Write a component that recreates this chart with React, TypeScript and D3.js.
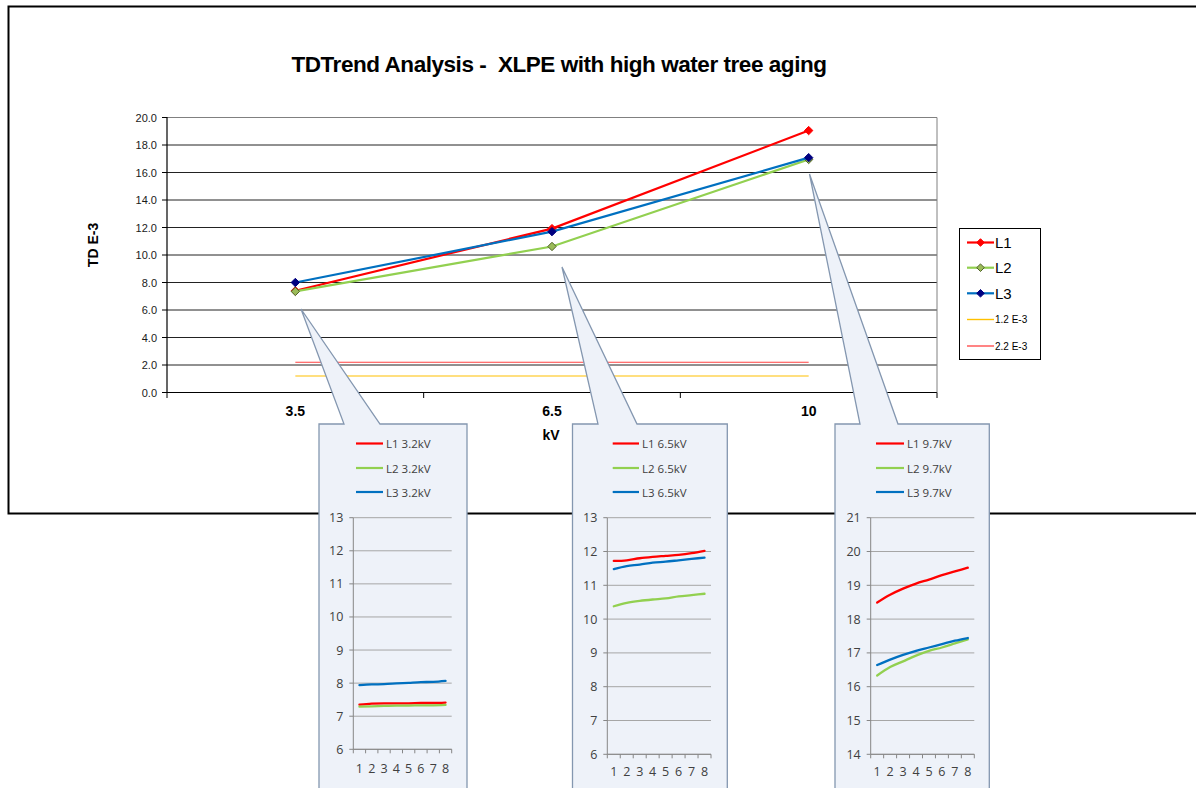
import React from "react";
import * as d3 from "d3";

const categories = ["3.5", "6.5", "10"];
const L1 = [7.4, 11.92, 19.05];
const L2 = [7.35, 10.62, 16.95];
const L3 = [8.0, 11.7, 17.08];
const REF_12 = 1.2;
const REF_22 = 2.2;
const yTicks = [0, 2, 4, 6, 8, 10, 12, 14, 16, 18, 20];

const insetX = [1, 2, 3, 4, 5, 6, 7, 8];
const in1L1 = [7.35, 7.38, 7.39, 7.39, 7.39, 7.4, 7.4, 7.41];
const in1L2 = [7.29, 7.3, 7.31, 7.32, 7.32, 7.33, 7.33, 7.34];
const in1L3 = [7.94, 7.96, 7.97, 7.99, 8.01, 8.03, 8.04, 8.07];
const in2L1 = [11.72, 11.74, 11.8, 11.84, 11.87, 11.9, 11.95, 12.02];
const in2L2 = [10.38, 10.48, 10.54, 10.58, 10.61, 10.67, 10.71, 10.75];
const in2L3 = [11.48, 11.57, 11.61, 11.67, 11.7, 11.74, 11.78, 11.82];
const in3L1 = [18.49, 18.72, 18.9, 19.05, 19.17, 19.3, 19.41, 19.52];
const in3L2 = [16.33, 16.58, 16.75, 16.92, 17.06, 17.16, 17.28, 17.4];
const in3L3 = [16.64, 16.8, 16.94, 17.06, 17.16, 17.26, 17.36, 17.44];

const RED = "#FF0000";
const GREEN = "#92D050";
const BLUE = "#0070C0";
const NAVY = "#000080";

const FONT = "'Liberation Sans', Arial, sans-serif";
const IFONT = "'Open Sans', 'Liberation Sans', sans-serif";

type InsetCfg = {
  left: number;
  right: number;
  top: number;
  tip: [number, number];
  base: [number, number];
  axisX: number;
  gridRight: number;
  yTop: number;
  yBottom: number;
  domain: [number, number];
  legX: [number, number];
  xLabelY: number;
  kv: string;
  series: number[][];
};

function diamondPath(r: number) {
  const p = d3.path();
  p.moveTo(0, -r);
  p.lineTo(r, 0);
  p.lineTo(0, r);
  p.lineTo(-r, 0);
  p.closePath();
  return p.toString();
}

function Inset({ c }: { c: InsetCfg }) {
  const bottom = 800;
  const outline = `M${c.left},${c.top} L${c.base[0]},${c.top} L${c.tip[0]},${c.tip[1]} L${c.base[1]},${c.top} L${c.right},${c.top} L${c.right},${bottom} L${c.left},${bottom} Z`;
  const x = d3
    .scaleBand<number>()
    .domain(insetX)
    .range([c.axisX, c.gridRight]);
  const y = d3.scaleLinear().domain(c.domain).range([c.yBottom, c.yTop]);
  const ticks = d3.range(c.domain[0], c.domain[1] + 0.5, 1);
  const line = d3
    .line<number>()
    .x((_, i) => (x(insetX[i]) as number) + x.bandwidth() / 2)
    .y((d) => y(d))
    .curve(d3.curveMonotoneX);
  const colors = [RED, GREEN, BLUE];
  const names = ["L1", "L2", "L3"];
  const legY = [443.5, 468, 492];
  const bounds = d3.range(0, 9).map((i) => c.axisX + i * x.step());
  return (
    <g>
      <path d={outline} fill="#EEF2F9" stroke="#8497B0" strokeWidth={1.3} />
      {names.map((n, i) => (
        <g key={n}>
          <line x1={c.legX[0]} x2={c.legX[1]} y1={legY[i]} y2={legY[i]} stroke={colors[i]} strokeWidth={2.2} />
          <text x={c.legX[1] + 3} y={legY[i] + 4.5} fontFamily={IFONT} fontSize={11.5} fill="#404040">
            {`${n} ${c.kv}`}
          </text>
        </g>
      ))}
      {ticks.map((t) => (
        <g key={t}>
          <line x1={c.axisX} x2={c.gridRight} y1={y(t)} y2={y(t)} stroke="#A6A6A6" strokeWidth={1} />
          <line x1={c.axisX - 4} x2={c.axisX} y1={y(t)} y2={y(t)} stroke="#868686" strokeWidth={1} />
          <text x={c.axisX - 10} y={y(t) + 4.5} textAnchor="end" fontFamily={IFONT} fontSize={12.5} fill="#404040">
            {t}
          </text>
        </g>
      ))}
      <line x1={c.axisX} x2={c.axisX} y1={c.yTop} y2={c.yBottom} stroke="#868686" strokeWidth={1} />
      <line x1={c.axisX} x2={c.gridRight} y1={c.yBottom} y2={c.yBottom} stroke="#868686" strokeWidth={1} />
      {bounds.map((bx, i) => (
        <line key={i} x1={bx} x2={bx} y1={c.yBottom} y2={c.yBottom + 4} stroke="#868686" strokeWidth={1} />
      ))}
      {insetX.map((v) => (
        <text
          key={v}
          x={(x(v) as number) + x.bandwidth() / 2}
          y={c.xLabelY + 4.5}
          textAnchor="middle"
          fontFamily={IFONT}
          fontSize={12.5}
          fill="#404040"
        >
          {v}
        </text>
      ))}
      {c.series.map((s, i) => (
        <path key={i} d={line(s) || ""} fill="none" stroke={colors[i]} strokeWidth={2.3} strokeLinecap="round" />
      ))}
    </g>
  );
}

export default function App() {
  const W = 1196;
  const H = 788;
  const x = d3.scaleBand<string>().domain(categories).range([167, 937]);
  const y = d3.scaleLinear().domain([0, 20]).range([392.5, 117.5]);
  const cx = (c: string) => (x(c) as number) + x.bandwidth() / 2;
  const lineGen = d3
    .line<number>()
    .x((_, i) => cx(categories[i]))
    .y((d) => y(d));
  const diamond = diamondPath(4.2);
  const smallDiamond = diamondPath(3.8);
  const bounds = d3.range(0, 4).map((i) => 167 + i * x.step());
  const xFirst = cx(categories[0]);
  const xLast = cx(categories[categories.length - 1]);

  const main = [
    { name: "L1", data: L1, color: RED, mFill: RED, mStroke: RED },
    { name: "L2", data: L2, color: GREEN, mFill: "#9BBB59", mStroke: "#4F6228" },
    { name: "L3", data: L3, color: BLUE, mFill: NAVY, mStroke: NAVY },
  ];

  const insets: InsetCfg[] = [
    {
      left: 319, right: 467, top: 424, tip: [301, 309], base: [344, 380],
      axisX: 353.3, gridRight: 451.7, yTop: 517.7, yBottom: 749.3, domain: [6, 13],
      legX: [356, 383], xLabelY: 768.3, kv: "3.2kV", series: [in1L1, in1L2, in1L3],
    },
    {
      left: 572.5, right: 727.3, top: 424, tip: [562, 267], base: [598, 637],
      axisX: 607.3, gridRight: 711, yTop: 517.7, yBottom: 754.3, domain: [6, 13],
      legX: [612.7, 639], xLabelY: 771.7, kv: "6.5kV", series: [in2L1, in2L2, in2L3],
    },
    {
      left: 835, right: 989.3, top: 424, tip: [809.5, 174], base: [860, 898],
      axisX: 870.7, gridRight: 974.3, yTop: 517.7, yBottom: 754.3, domain: [14, 21],
      legX: [876, 904], xLabelY: 771.7, kv: "9.7kV", series: [in3L1, in3L2, in3L3],
    },
  ];

  const legendItems = [
    { label: "L1", color: RED, mFill: RED, mStroke: RED, marker: true, big: true },
    { label: "L2", color: GREEN, mFill: "#9BBB59", mStroke: "#4F6228", marker: true, big: true },
    { label: "L3", color: BLUE, mFill: NAVY, mStroke: NAVY, marker: true, big: true },
    { label: "1.2 E-3", color: "#FFC000", marker: false, big: false },
    { label: "2.2 E-3", color: "#FF5050", marker: false, big: false },
  ];
  const legendY = [242.5, 267.7, 293.3, 319.5, 346];

  return (
    <svg
      width={W}
      height={H}
      style={{ position: "absolute", left: 0, top: 0, background: "#fff" }}
    >
      <rect x={0} y={0} width={W} height={H} fill="#fff" />
      {/* outer chart border */}
      <rect x={8.5} y={6.5} width={1200} height={507} fill="none" stroke="#000" strokeWidth={2} />

      <text
        x={559}
        y={72}
        textAnchor="middle"
        fontFamily={FONT}
        fontWeight="bold"
        fontSize={22.5}
        letterSpacing={-0.45}
        fill="#000"
        style={{ whiteSpace: "pre" }}
        xmlSpace="preserve"
      >
        {"TDTrend Analysis -  XLPE with high water tree aging"}
      </text>

      {/* gridlines */}
      {yTicks.map((t) => (
        <g key={t}>
          <line x1={167} x2={937} y1={y(t)} y2={y(t)} stroke={t === 0 ? "#000" : "#222"} strokeWidth={1} />
          <line x1={162} x2={167} y1={y(t)} y2={y(t)} stroke="#000" strokeWidth={1} />
          <text x={157} y={y(t) + 4} textAnchor="end" fontFamily={FONT} fontSize={11} fill="#1a1a1a">
            {t.toFixed(1)}
          </text>
        </g>
      ))}
      <line x1={937} x2={937} y1={117.5} y2={392.5} stroke="#808080" strokeWidth={1} />
      <line x1={167} x2={937} y1={117.5} y2={117.5} stroke="#808080" strokeWidth={1} />
      <line x1={167} x2={167} y1={117} y2={393} stroke="#000" strokeWidth={1.2} />
      {bounds.map((b, i) => (
        <line key={i} x1={b} x2={b} y1={392.5} y2={398} stroke="#000" strokeWidth={1} />
      ))}
      {categories.map((c) => (
        <text key={c} x={cx(c)} y={416} textAnchor="middle" fontFamily={FONT} fontWeight="bold" fontSize={14} fill="#000">
          {c}
        </text>
      ))}
      <text x={551} y={440} textAnchor="middle" fontFamily={FONT} fontWeight="bold" fontSize={14} fill="#000">
        kV
      </text>
      <text
        transform="translate(98,245) rotate(-90)"
        textAnchor="middle"
        fontFamily={FONT}
        fontWeight="bold"
        fontSize={14}
        fill="#000"
      >
        TD E-3
      </text>

      {/* reference lines */}
      <line x1={xFirst} x2={xLast} y1={y(REF_12)} y2={y(REF_12)} stroke="#FFC000" strokeWidth={1.2} />
      <line x1={xFirst} x2={xLast} y1={y(REF_22)} y2={y(REF_22)} stroke="#FF4040" strokeWidth={1.2} />

      {/* series */}
      {main.map((s) => (
        <g key={s.name}>
          <path d={lineGen(s.data) || ""} fill="none" stroke={s.color} strokeWidth={2.2} />
          {s.data.map((v, i) => (
            <path
              key={i}
              d={diamond}
              transform={`translate(${cx(categories[i])},${y(v)})`}
              fill={s.mFill}
              stroke={s.mStroke}
              strokeWidth={1}
            />
          ))}
        </g>
      ))}

      {/* legend */}
      <rect x={959.5} y={228.5} width={81} height={131} fill="#fff" stroke="#000" strokeWidth={1} />
      {legendItems.map((it, i) => (
        <g key={it.label}>
          <line x1={967} x2={994} y1={legendY[i]} y2={legendY[i]} stroke={it.color} strokeWidth={it.marker ? 2.2 : 1.4} />
          {it.marker && (
            <path
              d={smallDiamond}
              transform={`translate(980.5,${legendY[i]})`}
              fill={it.mFill}
              stroke={it.mStroke}
              strokeWidth={1}
            />
          )}
          <text
            x={995}
            y={legendY[i] + (it.big ? 5.5 : 3.5)}
            fontFamily={FONT}
            fontSize={it.big ? 15 : 10}
            fill="#000"
          >
            {it.label}
          </text>
        </g>
      ))}

      {/* callout insets */}
      {insets.map((c, i) => (
        <Inset key={i} c={c} />
      ))}
    </svg>
  );
}
